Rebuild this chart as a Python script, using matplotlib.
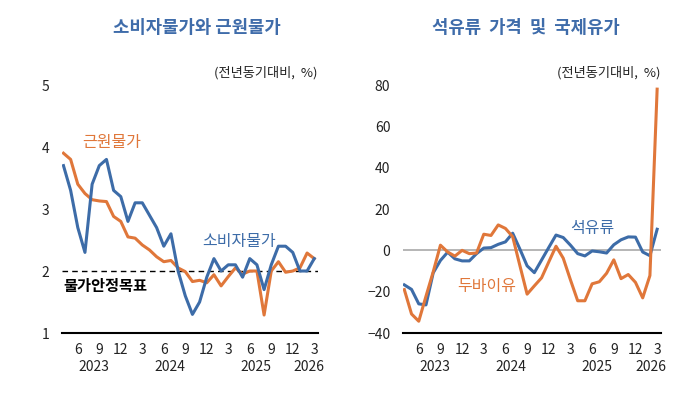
import numpy as np
import matplotlib
matplotlib.use('Agg')
import matplotlib.pyplot as plt
import matplotlib.transforms as mtransforms

plt.rcParams['font.family'] = ['Noto Sans CJK KR', 'DejaVu Sans']

# 월별 데이터 (2023.4 ~ 2026.3)
cpi = [3.7, 3.3, 2.7, 2.3, 3.4, 3.7, 3.8, 3.3, 3.2, 2.8, 3.1, 3.1,
       2.9, 2.7, 2.4, 2.6, 2.0, 1.6, 1.3, 1.5, 1.9, 2.2, 2.0, 2.1,
       2.1, 1.9, 2.2, 2.1, 1.7, 2.1, 2.4, 2.4, 2.3, 2.0, 2.0, 2.2]
core = [3.9, 3.8, 3.4, 3.25, 3.15, 3.13, 3.12, 2.88, 2.8, 2.55, 2.53, 2.42,
        2.34, 2.23, 2.15, 2.17, 2.05, 1.99, 1.83, 1.85, 1.81, 1.94, 1.76, 1.91,
        2.05, 1.95, 2.0, 2.0, 1.29, 2.0, 2.15, 1.98, 2.0, 2.05, 2.29, 2.2]
petro = [-16.7, -18.9, -25.9, -26.4, -10.9, -4.9, -0.9, -4.1, -5.1, -5.1, -1.6, 1.1,
         1.3, 2.9, 4.1, 8.3, 0.6, -7.5, -10.8, -4.7, 1.4, 7.4, 6.2, 2.5,
         -1.6, -2.7, -0.3, -0.7, -1.3, 2.7, 5.1, 6.5, 6.4, -0.8, -2.6, 10.2]
dubai = [-19.0, -30.8, -34.3, -22.2, -10.4, 2.5, -0.8, -2.8, 0.0, -1.6, -1.3, 7.8,
         7.2, 12.3, 10.6, 6.6, -7.4, -21.2, -17.2, -13.3, -5.6, 2.0, -3.8, -14.3,
         -24.4, -24.4, -16.2, -15.2, -11.1, -4.6, -13.7, -11.7, -15.5, -23.0, -12.2, 78.0]

month_ticks = [2, 5, 8, 11, 14, 17, 20, 23, 26, 29, 32, 35]
month_labels = ['6', '9', '12', '3', '6', '9', '12', '3', '6', '9', '12', '3']
year_labels = ['2023', '2024', '2025', '2026']
year_pos_left = [4.2, 14.8, 26.8, 34.2]
year_pos_right = [4.2, 14.7, 26.7, 34.2]

blue = '#3D6CA8'
orange = '#E0773A'
title_color = '#3F6CAA'

x = np.arange(len(cpi))

fig = plt.figure(figsize=(6.97, 3.98), dpi=100)
ax1 = fig.add_axes([0.089, 0.1633, 0.367, 0.6231])
ax2 = fig.add_axes([0.578, 0.1633, 0.370, 0.6231])


def style(ax, years_x):
    for s in ['left', 'right', 'top']:
        ax.spines[s].set_visible(False)
    ax.spines['bottom'].set_linewidth(1.5)
    ax.spines['bottom'].set_color('black')
    ax.tick_params(axis='both', length=0, labelsize=10, colors='#222222')
    ax.tick_params(axis='y', pad=9)
    ax.tick_params(axis='x', pad=7)
    ax.set_xticks(month_ticks)
    ax.set_xticklabels(month_labels)
    ax.set_xlim(-0.2, 35.5)
    trans = mtransforms.blended_transform_factory(ax.transData, ax.transAxes)
    for yx, lab in zip(years_x, year_labels):
        ax.text(yx, -0.137, lab, transform=trans, ha='center', va='center',
                fontsize=10, color='#222222')
    ax.text(1.0, 1.048, '(전년동기대비,  %)', transform=ax.transAxes,
            ha='right', va='center', fontsize=9.5, color='#222222')


# 왼쪽: 소비자물가와 근원물가
style(ax1, year_pos_left)
ax1.set_ylim(1, 5)
ax1.set_yticks([1, 2, 3, 4, 5])
ax1.axhline(2, color='black', lw=1.0, ls=(0, (4, 3)), zorder=1)
ax1.plot(x, cpi, color=blue, lw=2.2, zorder=3)
ax1.plot(x, core, color=orange, lw=2.2, zorder=2)
ax1.text(6.7, 4.08, '근원물가', color=orange, fontsize=11.5, ha='center', va='center')
ax1.text(24.5, 2.48, '소비자물가', color=blue, fontsize=11.5, ha='center', va='center')
ax1.text(0.0, 1.76, '물가안정목표', color='black', fontsize=11, fontweight='bold',
         ha='left', va='center')

# 오른쪽: 석유류 가격 및 국제유가
style(ax2, year_pos_right)
ax2.set_ylim(-40, 80)
ax2.set_yticks([-40, -20, 0, 20, 40, 60, 80])
ax2.axhline(0, color='#B0B0B0', lw=1.3, zorder=1)
ax2.plot(x, petro, color=blue, lw=2.2, zorder=2)
ax2.plot(x, dubai, color=orange, lw=2.2, zorder=3)
ax2.text(26.0, 10.8, '석유류', color=blue, fontsize=11.5, ha='center', va='center')
ax2.text(11.4, -17.3, '두바이유', color=orange, fontsize=11.5, ha='center', va='center')

fig.text(0.282, 0.93, '소비자물가와 근원물가', color=title_color, fontsize=12.8,
         fontweight='bold', ha='center', va='center')
fig.text(0.754, 0.93, '석유류  가격  및  국제유가', color=title_color, fontsize=12.8,
         fontweight='bold', ha='center', va='center')

fig.savefig('out.png', dpi=100)
